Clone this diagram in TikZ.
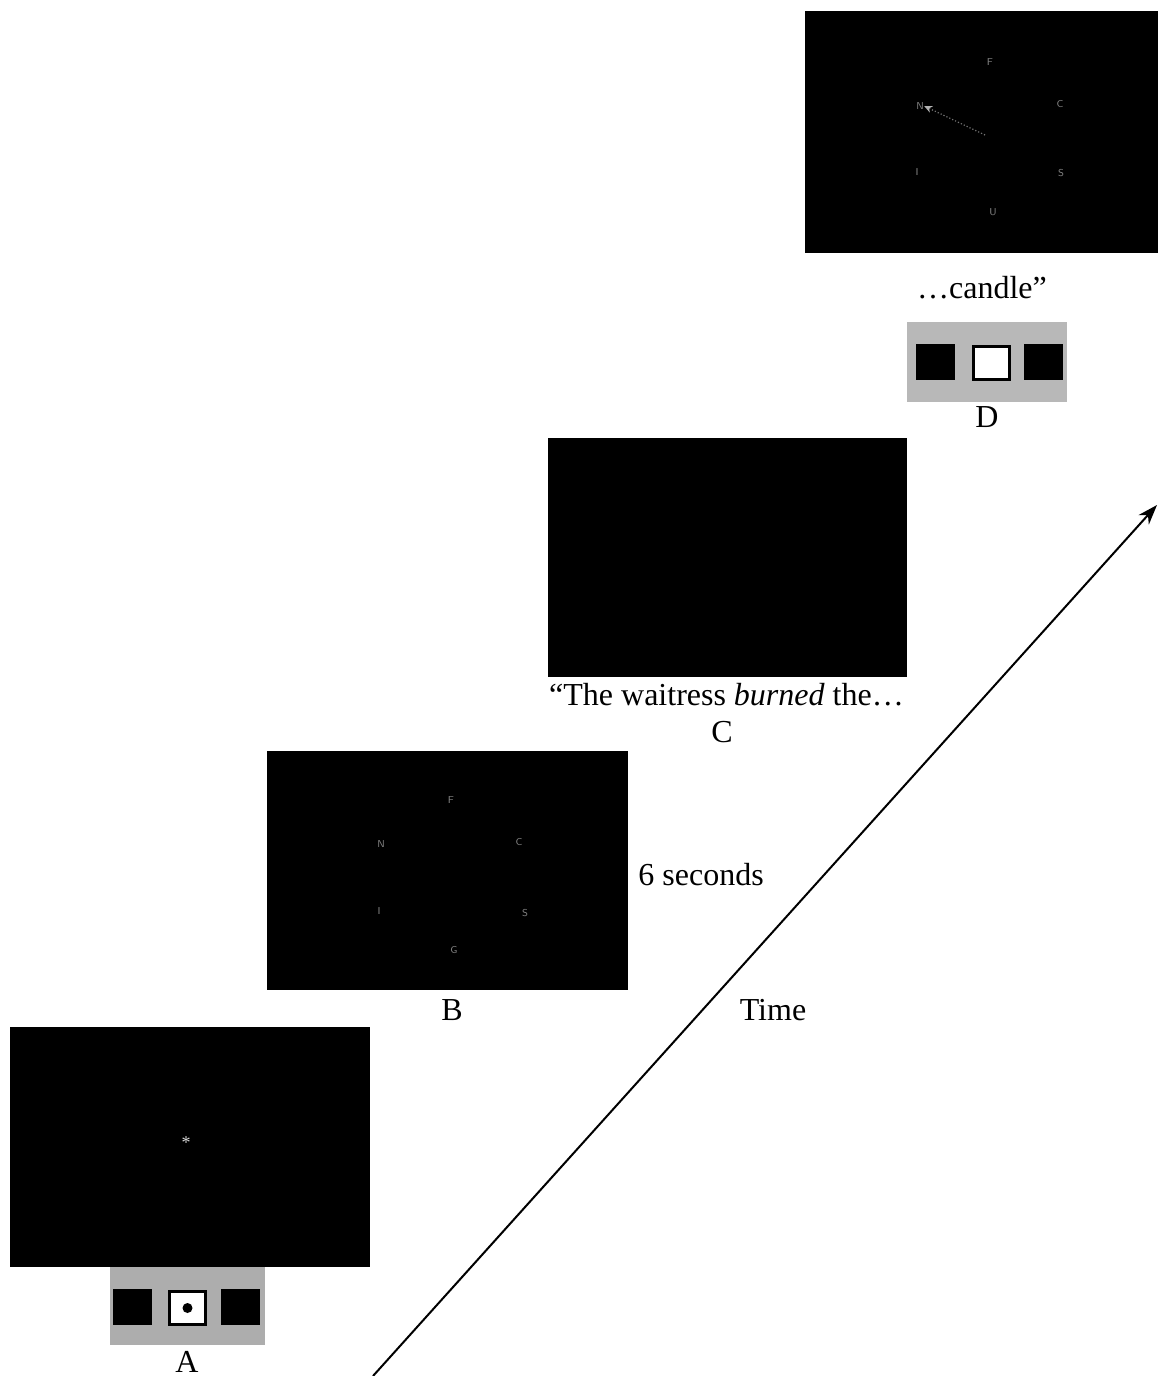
\documentclass[tikz,border=0pt]{standalone}
\usepackage{fontspec}
\setmainfont{Liberation Serif}
\usetikzlibrary{arrows.meta}
\begin{document}
\begin{tikzpicture}[x=0.5pt,y=-0.5pt,
  screen/.style={fill=black, draw=none, inner sep=0pt, outer sep=0pt},
  pad/.style={fill=black!32, draw=none, inner sep=0pt, outer sep=0pt},
  key/.style={fill=black, draw=none, inner sep=0pt, outer sep=0pt, minimum width=19.5pt, minimum height=18pt},
  litkey/.style={fill=white, draw=black, line width=1.5pt, inner sep=0pt, outer sep=0pt, minimum width=18pt, minimum height=16.5pt},
  lbl/.style={font=\fontsize{16}{19}\selectfont, inner sep=0pt, anchor=base},
  lett/.style={font=\fontsize{5}{6}\selectfont\sffamily, text=black!50, inner sep=0pt},
  timeline/.style={line width=1pt, -{Stealth[length=10pt,width=7pt]}}]
\useasboundingbox (0,0) rectangle (1158,1376);

% ---- Panel A ----
\node[screen, minimum width=180pt, minimum height=120pt] (scrA) at (190,1147) {};
\node[font=\fontsize{9}{9}\selectfont, text=white!85!black, inner sep=0pt] (fix) at (186,1143) {*};
\node[pad, minimum width=77.5pt, minimum height=39pt] (padA) at (187.5,1306) {};
\node[key] (aL) at (132.5,1307) {};
\node[litkey] (aM) at (187.5,1308) {};
\fill[black] (aM.center) circle (2.5pt);
\node[key] (aR) at (240.5,1307) {};
\node[lbl] (labA) at (187,1372) {A};

% ---- Panel B ----
\node[screen, minimum width=180.5pt, minimum height=119.5pt] (scrB) at (447.5,870.5) {};
\node[lett] (bF) at (451,800) {F};
\node[lett] (bN) at (381,844) {N};
\node[lett] (bC) at (519,842) {C};
\node[lett] (bI) at (379,911) {I};
\node[lett] (bS) at (525,913) {S};
\node[lett] (bU) at (454,950) {G};
\node[lbl] (labB) at (452,1020) {B};
\node[lbl, anchor=base west] (dur) at (638,885) {6 seconds};

% ---- Panel C ----
\node[screen, minimum width=179.5pt, minimum height=119.5pt] (scrC) at (727.5,557.5) {};
\node[lbl] (sentC) at (726.5,705) {“The waitress \textit{burned} the…};
\node[lbl] (labC) at (722,742) {C};

% ---- Panel D ----
\node[screen, minimum width=176.5pt, minimum height=121pt] (scrD) at (981.5,132) {};
\node[lett] (dF) at (990,62) {F};
\node[lett] (dN) at (920,106) {N};
\node[lett] (dC) at (1060,104) {C};
\node[lett] (dI) at (917,172) {I};
\node[lett] (dS) at (1061,173) {S};
\node[lett] (dU) at (993,212) {U};
\coordinate (gaze) at (985,135);
\draw[black!55, line width=0.6pt, densely dotted, -{Stealth[length=4pt,width=3.5pt,fill=white!80!black,color=white!70!black]}] (gaze) -- (dN.east);
\node[lbl] (sentD) at (982,298) {…candle”};
\node[pad, fill=black!28, minimum width=80pt, minimum height=40pt] (padD) at (987,362) {};
\node[key] (dL) at (935,361.5) {};
\node[litkey] (dM) at (991,362.5) {};
\node[key] (dR) at (1043.5,361.5) {};
\node[lbl] (labD) at (987,427) {D};

% ---- Time arrow ----
\coordinate (t0) at (373,1376);
\coordinate (t1) at (1157,505);
\draw[timeline] (t0) -- (t1);
\node[lbl] (timeL) at (773,1020) {Time};
\end{tikzpicture}
\end{document}
